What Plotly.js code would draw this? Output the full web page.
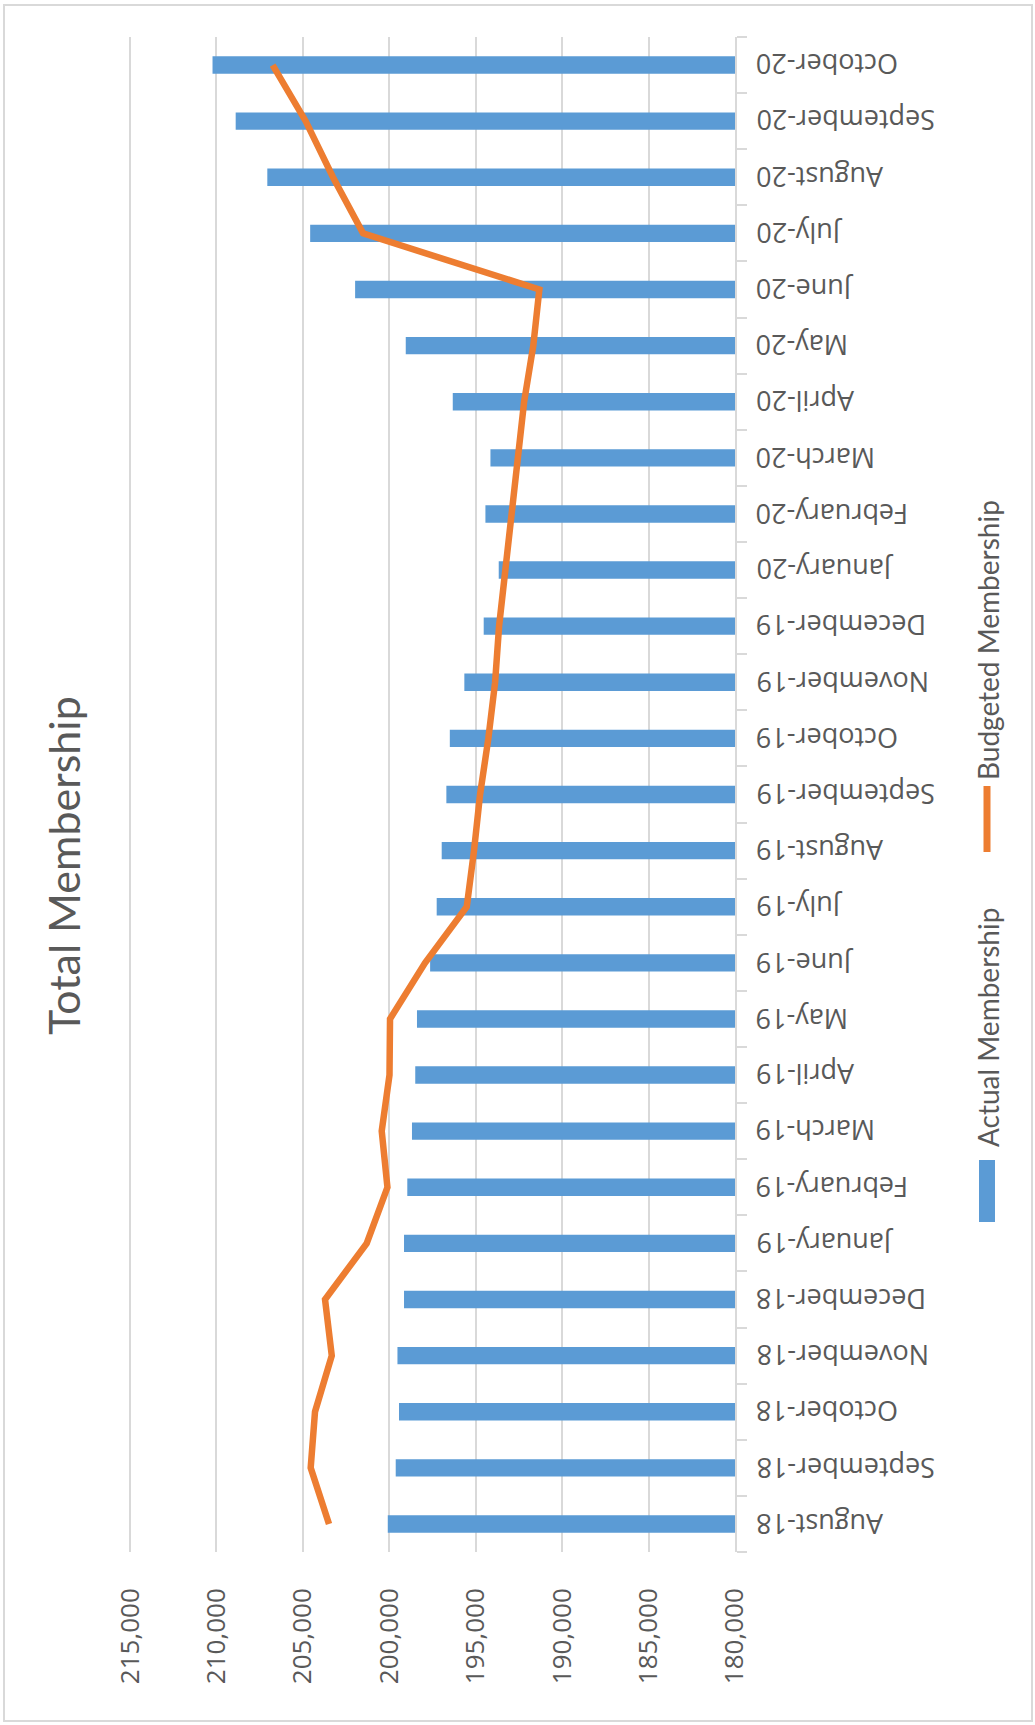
<!DOCTYPE html>
<html>
<head>
<meta charset="utf-8">
<script src="https://cdn.plot.ly/plotly-3.0.1.min.js"></script>
<style>
  html, body { margin: 0; padding: 0; background: #ffffff; }
  #chart { width: 1035px; height: 1725px; }
</style>
</head>
<body>
<div id="chart"></div>
<script>
// ---- Data ----
const months = ["August-18","September-18","October-18","November-18","December-18",
  "January-19","February-19","March-19","April-19","May-19","June-19","July-19",
  "August-19","September-19","October-19","November-19","December-19",
  "January-20","February-20","March-20","April-20","May-20","June-20","July-20",
  "August-20","September-20","October-20"];

const actualMembership = [200090,199630,199440,199530,199150,
  199150,198960,198690,198500,198400,197640,197260,
  196970,196700,196500,195660,194540,
  193670,194440,194150,196330,199050,201980,204580,
  207060,208890,210230];

const budgetedMembership = [203490,204550,204300,203330,203720,
  201310,200110,200440,199990,199960,197930,195520,
  195100,194750,194270,193880,193650,
  193270,192900,192530,192200,191670,191320,201520,
  203260,204840,206750];

const valueTicks = [180000,185000,190000,195000,200000,205000,210000,215000];
const valueTickText = ["180,000","185,000","190,000","195,000","200,000","205,000","210,000","215,000"];

const chartTitle = "Total Membership";
const seriesNames = ["Actual Membership","Budgeted Membership"];

// ---- Layout geometry ----
const W = 1035, H = 1725;
const M = { l: 128, r: 300, t: 37, b: 173 };
const PW = W - M.l - M.r, PH = H - M.t - M.b;
const px = x => (x - M.l) / PW;
const py = y => (H - M.b - y) / PH;

const BLUE = "#5B9BD5", ORANGE = "#ED7D31", GRID = "#D9D9D9", TXT = "#595959";

const traces = [
  {
    type: "bar", orientation: "h", name: seriesNames[0],
    y: months, x: actualMembership,
    marker: { color: BLUE },
    hoverinfo: "x+y"
  },
  {
    type: "scatter", mode: "lines", name: seriesNames[1],
    y: months, x: budgetedMembership,
    line: { color: ORANGE, width: 6.5, shape: "linear" },
    hoverinfo: "x+y"
  }
];

// Category labels, drawn upside down (the chart is rotated) next to the category axis
const categoryLabels = months.map(m => ({
  text: m, xref: "paper", yref: "y", x: px(754), y: m,
  xanchor: "left", yanchor: "middle", textangle: 180, showarrow: false,
  font: { family: "Open Sans, sans-serif", size: 27, color: TXT }
}));

const layout = {
  width: W, height: H,
  margin: M,
  paper_bgcolor: "#ffffff", plot_bgcolor: "#ffffff",
  showlegend: false,
  bargap: 0.69,
  font: { family: "Open Sans, sans-serif", color: TXT },
  xaxis: {
    range: [215120, 180000], autorange: false, automargin: false,
    tickvals: valueTicks, ticktext: valueTickText,
    tickangle: -90,
    tickfont: { size: 26, color: TXT, family: "Open Sans, sans-serif" },
    showgrid: true, gridcolor: GRID, gridwidth: 2,
    zeroline: false, showline: false, ticks: "",
    ticklabelstandoff: 30,
    fixedrange: true
  },
  yaxis: {
    type: "category", categoryorder: "array", categoryarray: months,
    range: [-0.5, months.length - 0.5], autorange: false, automargin: false,
    side: "right",
    showticklabels: false,
    showline: true, linecolor: GRID, linewidth: 2,
    ticks: "outside", ticklen: 10, tickcolor: GRID, tickwidth: 2,
    tickson: "boundaries",
    showgrid: false, zeroline: false,
    layer: "above traces",
    fixedrange: true
  },
  shapes: [
    { type: "rect", xref: "paper", yref: "paper",
      x0: px(4), x1: px(1032), y0: py(1721), y1: py(5),
      line: { color: GRID, width: 2 }, fillcolor: "rgba(0,0,0,0)", layer: "below" },
    { type: "rect", xref: "paper", yref: "paper",
      x0: px(979), x1: px(995), y0: py(1222), y1: py(1160),
      line: { width: 0 }, fillcolor: BLUE },
    { type: "line", xref: "paper", yref: "paper",
      x0: px(987), x1: px(987), y0: py(852), y1: py(786),
      line: { color: ORANGE, width: 7 } }
  ],
  annotations: [
    { text: chartTitle, xref: "paper", yref: "paper", x: px(63), y: py(866),
      xanchor: "center", yanchor: "middle", textangle: -90, showarrow: false,
      font: { family: "Lato, sans-serif", size: 43, color: TXT } },
    { text: seriesNames[0], xref: "paper", yref: "paper", x: px(988), y: py(1028),
      xanchor: "center", yanchor: "middle", textangle: -90, showarrow: false,
      font: { family: "Lato, sans-serif", size: 28, color: TXT } },
    { text: seriesNames[1], xref: "paper", yref: "paper", x: px(988), y: py(640),
      xanchor: "center", yanchor: "middle", textangle: -90, showarrow: false,
      font: { family: "Lato, sans-serif", size: 28, color: TXT } }
  ].concat(categoryLabels)
};

Plotly.newPlot("chart", traces, layout, { displayModeBar: false, staticPlot: true });
</script>
</body>
</html>
